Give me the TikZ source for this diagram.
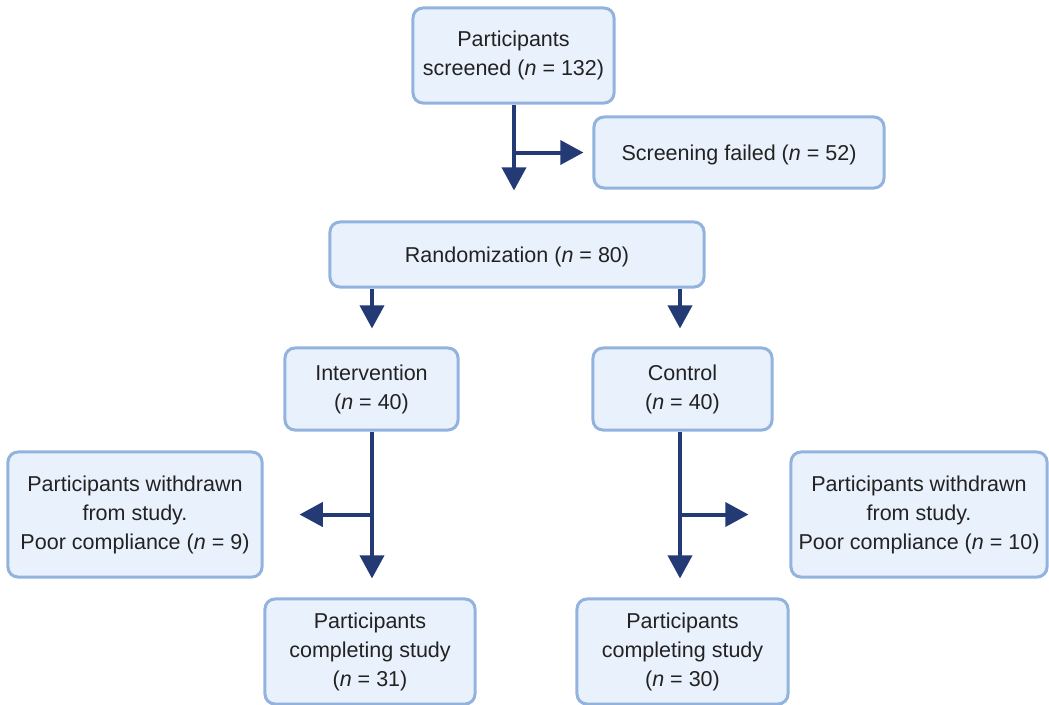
\documentclass[tikz,border=0pt]{standalone}
\usepackage{fontspec}
\setmainfont{Liberation Sans}
\usepackage{tikz}
\usetikzlibrary{arrows.meta, positioning, calc}

\definecolor{boxfill}{HTML}{E9F2FC}
\definecolor{boxline}{HTML}{92B3DE}
\definecolor{flowblue}{HTML}{243A75}
\definecolor{labeltext}{HTML}{222222}

\newcommand{\nsize}[1]{(\textit{n} = #1)}

\begin{document}
\begin{tikzpicture}[
    x=0.025cm, y=-0.025cm,
    box/.style={rectangle, rounded corners=0.25cm, draw=boxline, fill=boxfill,
                line width=0.075cm, align=center, text=labeltext, inner sep=0pt,
                font=\fontsize{15.3}{20.6}\selectfont,
                execute at begin node={\rule{0pt}{14.6pt}}},
    arrowstyle/.style={-{Triangle[width=0.6cm, length=0.58cm]}, line width=0.1cm,
                       draw=flowblue},
]
\useasboundingbox (0,0) rectangle (1049,704);

%% Main column
\node[box, minimum width=5.025cm, minimum height=2.375cm] (screen) at (513.5,55.5)
    {Participants\\screened \nsize{132}};
\node[box, minimum width=7.25cm, minimum height=1.775cm] (fail) at (739,152.5)
    {Screening failed \nsize{52}};
\node[box, minimum width=9.35cm, minimum height=1.625cm] (rand) at (517,254.5)
    {Randomization \nsize{80}};

%% Arms
\node[box, minimum width=4.325cm, minimum height=2.05cm] (interv) at (371.5,389)
    {Intervention\\\nsize{40}};
\node[box, minimum width=4.475cm, minimum height=2.05cm] (ctrl) at (682.5,389)
    {Control\\\nsize{40}};

%% Withdrawals
\node[box, minimum width=6.35cm, minimum height=3.125cm] (wdleft) at (135,514.5)
    {Participants withdrawn\\from study.\\Poor compliance \nsize{9}};
\node[box, minimum width=6.4cm, minimum height=3.125cm] (wdright) at (919,514.5)
    {Participants withdrawn\\from study.\\Poor compliance \nsize{10}};

%% Completers
\node[box, minimum width=5.25cm, minimum height=2.625cm] (doneleft) at (370,651.5)
    {Participants\\completing study\\\nsize{31}};
\node[box, minimum width=5.275cm, minimum height=2.625cm] (doneright) at (682.5,651.5)
    {Participants\\completing study\\\nsize{30}};

%% Arrow columns
\coordinate (mainx) at (514,0);
\coordinate (leftx) at (372,0);
\coordinate (rightx) at (680,0);

%% Arrows
\draw[arrowstyle, shorten >=0.75cm] (screen.south -| mainx) -- (rand.north -| mainx);
\draw[arrowstyle, shorten >=0.225cm] (mainx |- fail.west) -- (fail.west);

\draw[arrowstyle, shorten >=0.45cm] (rand.south -| leftx) -- (interv.north -| leftx);
\draw[arrowstyle, shorten >=0.45cm] (rand.south -| rightx) -- (ctrl.north -| rightx);

\draw[arrowstyle, shorten >=0.475cm] (interv.south -| leftx) -- (doneleft.north -| leftx);
\draw[arrowstyle, shorten >=0.9cm] (leftx |- wdleft.east) -- (wdleft.east);

\draw[arrowstyle, shorten >=0.475cm] (ctrl.south -| rightx) -- (doneright.north -| rightx);
\draw[arrowstyle, shorten >=1.025cm] (rightx |- wdright.west) -- (wdright.west);

\end{tikzpicture}
\end{document}
